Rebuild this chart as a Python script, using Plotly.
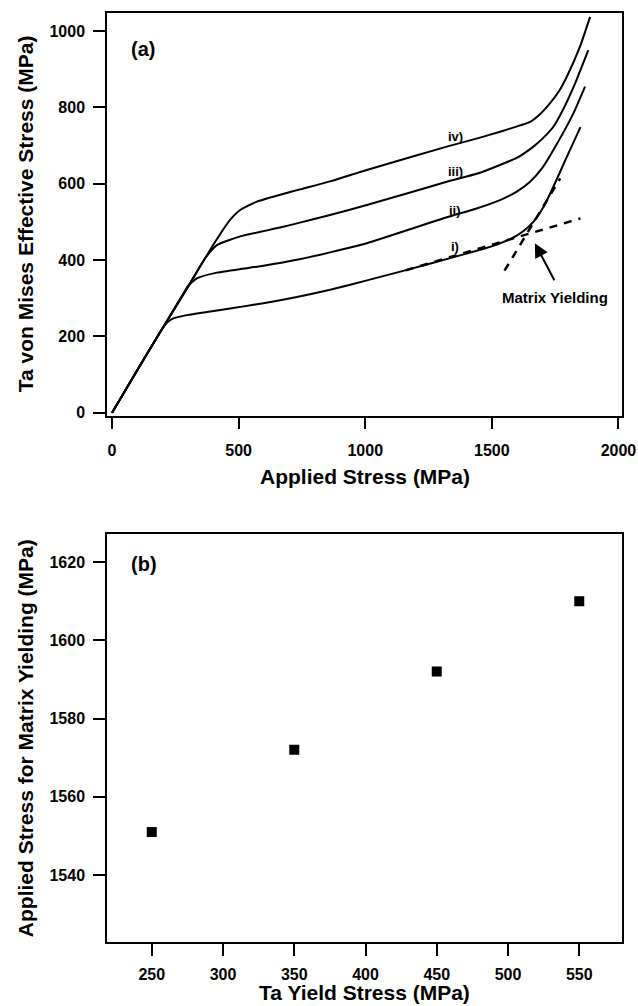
import plotly.graph_objects as go

# ---------------- Panel (a) data ----------------
curve_i_x = [0, 100, 196, 220, 242, 290, 335, 466, 598, 730, 861, 1003, 1265, 1475, 1530, 1585, 1625, 1664, 1705, 1743, 1796, 1850]
curve_i_y = [0, 112, 218, 238, 247, 255, 260, 273, 287, 303, 322, 346, 392, 431, 443, 459, 476, 500, 540, 592, 670, 748]

curve_ii_x = [0, 100, 200, 280, 300, 335, 414, 598, 740, 861, 1006, 1322, 1430, 1532, 1600, 1651, 1700, 1743, 1822, 1868]
curve_ii_y = [0, 112, 222, 310, 332, 352, 367, 385, 402, 420, 444, 512, 533, 557, 580, 605, 642, 688, 784, 854]

curve_iii_x = [0, 100, 200, 300, 367, 414, 506, 664, 742, 861, 1006, 1322, 1450, 1532, 1600, 1664, 1700, 1743, 1782, 1822, 1881]
curve_iii_y = [0, 112, 222, 330, 404, 439, 462, 485, 498, 518, 544, 605, 628, 649, 668, 697, 718, 749, 795, 852, 950]

curve_iv_x = [0, 100, 200, 300, 400, 466, 506, 572, 664, 742, 861, 1006, 1322, 1450, 1532, 1600, 1651, 1690, 1730, 1765, 1796, 1848, 1888]
curve_iv_y = [0, 112, 222, 330, 440, 505, 531, 553, 571, 585, 606, 636, 697, 720, 736, 750, 762, 782, 811, 842, 880, 959, 1037]

curve_labels = ["i)", "ii)", "iii)", "iv)"]
label_x = [1355, 1355, 1355, 1355]
label_y = [435, 530, 631, 723]

tangent_low_x = [1160, 1850]
tangent_low_y = [373, 509]
tangent_high_x = [1550, 1770]
tangent_high_y = [372, 614]

arrow_tip = (1670, 444)
arrow_tail = (1750, 343)
arrow_text_pos = (1750, 302)

# ---------------- Panel (b) data ----------------
ta_yield = [250, 350, 450, 550]
matrix_yield_stress = [1551, 1572, 1592, 1610]

# ---------------- Text ----------------
title_a_x = "Applied Stress (MPa)"
title_a_y = "Ta von Mises Effective Stress (MPa)"
title_b_x = "Ta Yield Stress (MPa)"
title_b_y = "Applied Stress for Matrix Yielding (MPa)"

# ---------------- Figure ----------------
fig = go.Figure()

for cx, cy in [(curve_i_x, curve_i_y), (curve_ii_x, curve_ii_y),
               (curve_iii_x, curve_iii_y), (curve_iv_x, curve_iv_y)]:
    fig.add_trace(go.Scatter(x=cx, y=cy, mode="lines",
                             line=dict(color="black", width=2, shape="spline", smoothing=0.5),
                             xaxis="x", yaxis="y", showlegend=False, hoverinfo="skip"))

dash_style = dict(color="black", width=2.5, dash="8px,7px")
fig.add_trace(go.Scatter(x=tangent_low_x, y=tangent_low_y, mode="lines", line=dash_style,
                         xaxis="x", yaxis="y", showlegend=False))
fig.add_trace(go.Scatter(x=tangent_high_x, y=tangent_high_y, mode="lines", line=dash_style,
                         xaxis="x", yaxis="y", showlegend=False))

fig.add_trace(go.Scatter(x=ta_yield, y=matrix_yield_stress, mode="markers",
                         marker=dict(symbol="square", size=10, color="black"),
                         xaxis="x2", yaxis="y2", showlegend=False))

title_font = dict(size=21, color="black", weight="bold")
annotations = []
for t, lx, ly in zip(curve_labels, label_x, label_y):
    annotations.append(dict(x=lx, y=ly, xref="x", yref="y", text=t, showarrow=False,
                            font=dict(size=13, color="black", weight="bold")))
annotations.append(dict(x=arrow_text_pos[0], y=arrow_text_pos[1], xref="x", yref="y",
                        text="Matrix Yielding", showarrow=False,
                        font=dict(size=15, color="black", weight="bold")))
annotations.append(dict(x=arrow_tip[0], y=arrow_tip[1], xref="x", yref="y",
                        ax=arrow_tail[0], ay=arrow_tail[1], axref="x", ayref="y",
                        text="", showarrow=True, arrowhead=2, arrowsize=1.4, arrowwidth=2,
                        arrowcolor="black"))
annotations.append(dict(x=124, y=953, xref="x", yref="y", text="(a)", showarrow=False,
                        font=dict(size=20, color="black", weight="bold")))
annotations.append(dict(x=244.7, y=1619.4, xref="x2", yref="y2", text="(b)", showarrow=False,
                        font=dict(size=20, color="black", weight="bold")))
# axis titles
annotations.append(dict(x=0.5, y=0, xref="x domain", yref="y domain", text=title_a_x,
                        showarrow=False, yanchor="middle", yshift=-60.5, font=title_font))
annotations.append(dict(x=0, y=0.5, xref="x domain", yref="y domain", text=title_a_y,
                        showarrow=False, xanchor="center", xshift=-82, textangle=-90, font=title_font))
annotations.append(dict(x=0.5, y=0, xref="x2 domain", yref="y2 domain", text=title_b_x,
                        showarrow=False, yanchor="middle", yshift=-50, borderpad=0, font=title_font))
annotations.append(dict(x=0, y=0.5, xref="x2 domain", yref="y2 domain", text=title_b_y,
                        showarrow=False, xanchor="center", xshift=-82, textangle=-90, font=title_font))

axis_common = dict(showline=True, linecolor="black", linewidth=1.5, mirror=True,
                   ticks="outside", ticklen=12, tickwidth=1.5, tickcolor="black",
                   showgrid=False, zeroline=False, automargin=False,
                   tickfont=dict(size=16, color="black", weight="bold"))

fig.update_layout(
    width=638, height=1006,
    margin=dict(l=107, r=16, t=13, b=64),
    paper_bgcolor="white", plot_bgcolor="white",
    font=dict(family="Liberation Sans, Arial, sans-serif", color="black", weight="bold"),
    annotations=annotations,
    xaxis=dict(axis_common, domain=[0, 1], anchor="y", range=[-20, 2014],
               tickvals=[0, 500, 1000, 1500, 2000], ticklabelstandoff=8),
    yaxis=dict(axis_common, domain=[0.5667, 1], anchor="x", range=[-7.3, 1047],
               tickvals=[0, 200, 400, 600, 800, 1000], ticklabelstandoff=5),
    xaxis2=dict(axis_common, domain=[0, 1], anchor="y2", range=[218.6, 580],
                tickvals=[250, 300, 350, 400, 450, 500, 550], ticklabelstandoff=5),
    yaxis2=dict(axis_common, domain=[0, 0.4389], anchor="x2", range=[1522.9, 1627.1],
                tickvals=[1540, 1560, 1580, 1600, 1620], ticklabelstandoff=5),
)

fig.write_html("out.html")
